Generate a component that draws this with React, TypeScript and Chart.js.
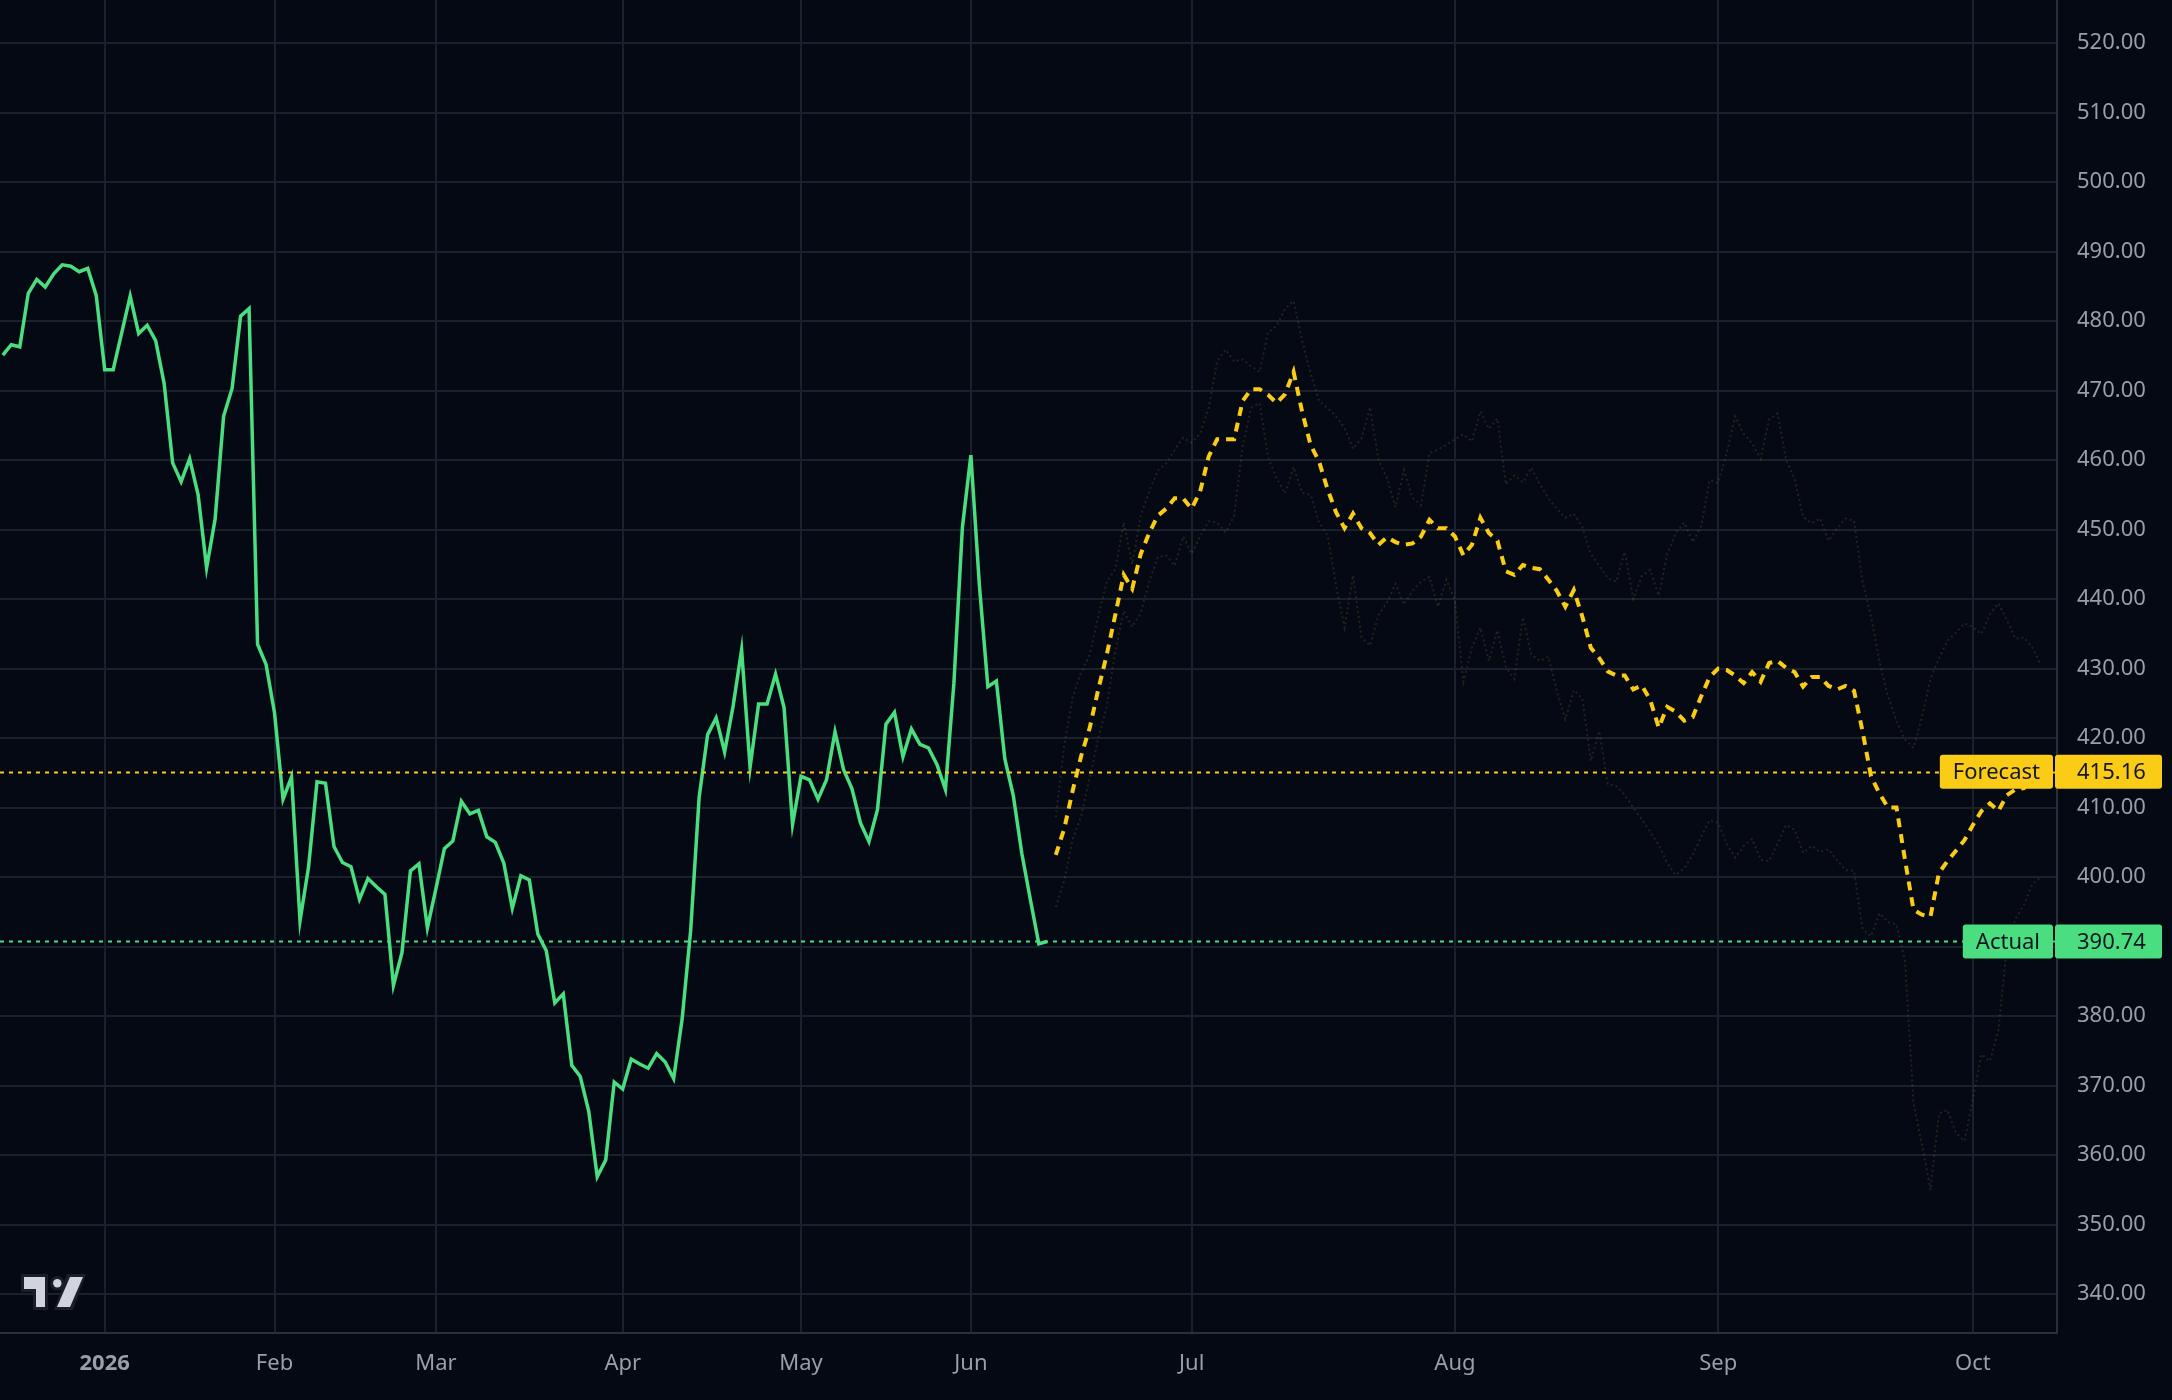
import React, { useEffect, useRef } from "react";
import { Chart, registerables } from "chart.js";

Chart.register(...registerables);

// ---------- DATA ----------
const ACTUAL: number[] = [
  475.1, 476.6, 476.3, 484.0, 486.0, 484.9, 486.8, 488.1, 487.9, 487.1,
  487.6, 483.7, 473.0, 473.0, 478.3, 483.6, 478.2, 479.4, 477.2, 471.0,
  459.6, 456.9, 460.2, 455.0, 444.5, 451.5, 466.3, 470.3, 480.7, 481.8,
  433.5, 430.6, 423.6, 411.2, 414.4, 393.7, 401.4, 413.7, 413.5, 404.4,
  402.1, 401.5, 396.8, 399.8, 398.6, 397.5, 384.4, 389.1, 400.9, 401.9,
  392.7, 398.3, 404.1, 405.2, 410.9, 409.1, 409.6, 405.8, 405.0, 402.0,
  395.5, 400.2, 399.6, 391.8, 389.4, 381.9, 383.2, 372.9, 371.3, 366.3,
  356.9, 359.3, 370.5, 369.5, 373.8, 373.1, 372.5, 374.6, 373.4, 371.0,
  379.6, 392.3, 411.5, 420.5, 422.9, 418.0, 424.6, 432.7, 415.8, 424.9,
  424.9, 429.2, 424.4, 407.6, 414.5, 414.0, 411.2, 414.0, 420.9, 415.5,
  412.7, 407.8, 405.1, 409.7, 422.0, 423.7, 417.3, 421.3, 419.1, 418.6,
  416.2, 412.6, 427.9, 450.3, 460.7, 442.0, 427.4, 428.2, 417.0, 411.7,
  403.4, 396.8, 390.4, 390.74,
];

const FORECAST_START = 124;

const FORECAST: number[] = [
  403.2, 407.0, 412.5, 417.5, 421.5, 427.0, 432.0, 437.7, 443.5, 441.5,
  446.5, 449.5, 452.0, 453.0, 454.5, 454.5, 453.0, 455.5, 460.5, 463.0,
  463.0, 463.0, 468.5, 470.2, 470.2, 469.4, 468.2, 469.5, 472.7, 467.0,
  462.2, 459.8, 455.8, 452.5, 450.2, 452.3, 450.2, 449.5, 447.8, 448.9,
  448.2, 447.8, 448.0, 449.0, 451.4, 450.2, 450.2, 449.0, 446.3, 447.8,
  451.7, 449.5, 448.4, 444.0, 443.5, 444.9, 444.5, 444.3, 442.8, 441.2,
  438.9, 441.3, 437.5, 433.0, 431.5, 429.6, 429.0, 429.0, 427.0, 427.6,
  425.5, 421.5, 424.5, 423.8, 422.5, 423.0, 426.0, 428.8, 430.0, 429.8,
  429.0, 427.9, 429.5, 428.1, 430.8, 431.1, 430.1, 429.5, 427.4, 428.8,
  428.8, 427.5, 427.0, 427.5, 426.8, 421.0, 414.5, 412.0, 410.0, 410.0,
  402.5, 395.3, 394.6, 394.3, 400.6, 402.3, 403.8, 405.3, 407.5, 409.5,
  410.6, 409.5, 411.8, 412.6, 412.8, 415.0, 417.0,
];

const UPPER: number[] = [
  408.6, 419.0, 426.0, 429.5, 432.0, 437.5, 442.5, 444.3, 451.0, 445.0,
  452.0, 455.5, 458.5, 459.5, 461.5, 463.2, 462.5, 463.8, 467.5, 474.2,
  475.9, 474.2, 474.5, 473.5, 472.7, 478.4, 479.3, 481.8, 482.9, 477.2,
  472.5, 468.5, 467.5, 466.3, 464.6, 461.6, 463.1, 467.6, 460.0, 457.4,
  453.2, 458.6, 454.6, 453.5, 461.0, 461.5, 462.2, 463.0, 463.7, 462.7,
  467.0, 464.5, 466.0, 456.5, 457.8, 456.8, 458.9, 456.5, 454.5, 453.0,
  451.7, 452.3, 450.4, 446.5, 444.8, 443.0, 442.5, 446.8, 440.0, 443.3,
  444.2, 440.5, 446.5, 449.5, 451.0, 448.2, 450.5, 457.1, 456.7, 461.0,
  466.3, 463.8, 462.4, 460.2, 465.9, 466.7, 460.0, 457.3, 451.8, 450.9,
  451.6, 448.4, 450.2, 451.6, 451.3, 442.5, 437.5, 431.0, 426.0, 422.5,
  419.8, 418.6, 423.0, 428.5, 431.5, 434.0, 435.2, 436.5, 436.0, 435.0,
  437.8, 439.4, 437.0, 434.3, 434.5, 433.0, 430.5,
];

const LOWER: number[] = [
  395.7, 399.5, 405.5, 408.8, 414.3, 420.0, 424.5, 432.5, 438.3, 436.0,
  438.0, 442.5, 446.0, 446.3, 444.8, 449.0, 446.5, 449.0, 451.2, 451.0,
  449.6, 452.0, 462.0, 467.5, 468.2, 460.4, 457.4, 455.2, 459.0, 455.3,
  455.0, 451.0, 449.2, 442.0, 435.9, 443.4, 434.5, 433.3, 437.7, 439.5,
  442.2, 439.2, 441.2, 442.5, 443.2, 438.9, 442.8, 439.8, 428.1, 433.0,
  435.9, 431.1, 435.5, 430.2, 428.5, 437.4, 432.0, 431.1, 431.7, 426.8,
  422.7, 426.9, 425.7, 416.7, 421.0, 413.4, 413.1, 411.8, 410.0, 408.3,
  406.5, 404.6, 402.0, 400.3, 401.2, 403.2, 405.8, 408.2, 407.8, 404.8,
  402.8, 404.5, 405.5, 402.5, 402.3, 404.8, 407.5, 406.8, 403.5, 404.5,
  403.6, 404.0, 402.4, 401.0, 400.9, 392.5, 391.5, 394.8, 393.5, 393.2,
  388.0, 367.5, 361.5, 355.0, 366.0, 366.5, 363.2, 362.0, 368.1, 374.5,
  373.5, 378.0, 390.0, 394.0, 396.0, 399.0, 400.0,
];

const MONTH_TICKS: number[] = [12, 32, 51, 73, 94, 114, 140, 171, 202, 232];
const MONTH_LABELS: string[] = ["2026", "Feb", "Mar", "Apr", "May", "Jun", "Jul", "Aug", "Sep", "Oct"];
const Y_TICKS: number[] = [340, 350, 360, 370, 380, 390, 400, 410, 420, 430, 440, 450, 460, 470, 480, 490, 500, 510, 520];

const FORECAST_LAST = 415.16;
const ACTUAL_LAST = 390.74;

// ---------- STYLE ----------
const BG = "#050913";
const GRID = "#1b202d";
const AXIS_LINE = "#2a2f3b";
const TICK_COLOR = "#9a9ea8";
const GREEN = "#4ade80";
const YELLOW = "#facc15";
const BAND = "rgba(160,140,70,0.2)";
const FONT = "Noto Sans";

const overlayPlugin = {
  id: "overlay",
  beforeDraw(chart: any) {
    const ctx = chart.ctx;
    ctx.save();
    ctx.fillStyle = BG;
    ctx.fillRect(0, 0, chart.width, chart.height);
    ctx.restore();
  },
  afterDatasetsDraw(chart: any) {
    const { ctx, chartArea, scales } = chart;
    const lines = [
      { v: FORECAST_LAST, c: YELLOW },
      { v: ACTUAL_LAST, c: GREEN },
    ];
    ctx.save();
    ctx.lineWidth = 2;
    ctx.setLineDash([4, 5]);
    for (const l of lines) {
      const y = Math.round(scales.y.getPixelForValue(l.v)) + 0.5;
      ctx.strokeStyle = l.c;
      ctx.beginPath();
      ctx.moveTo(chartArea.left, y);
      ctx.lineTo(chartArea.right, y);
      ctx.stroke();
    }
    ctx.restore();
  },
  afterDraw(chart: any) {
    const { ctx, chartArea, scales } = chart;
    const labels = [
      { name: "Forecast", v: FORECAST_LAST, c: YELLOW },
      { name: "Actual", v: ACTUAL_LAST, c: GREEN },
    ];
    ctx.save();
    ctx.font = `22px "${FONT}"`;
    ctx.textBaseline = "middle";
    const h = 34;
    for (const l of labels) {
      const y = scales.y.getPixelForValue(l.v);
      const tw = ctx.measureText(l.name).width;
      const bw = tw + 26;
      const bx = chartArea.right - 4 - bw;
      ctx.fillStyle = l.c;
      ctx.beginPath();
      if (ctx.roundRect) ctx.roundRect(bx, y - h / 2, bw, h, 3);
      else ctx.rect(bx, y - h / 2, bw, h);
      ctx.fill();
      const vx = chartArea.right - 2;
      const vw = chart.width - 10 - vx;
      ctx.beginPath();
      if (ctx.roundRect) ctx.roundRect(vx, y - h / 2, vw, h, 3);
      else ctx.rect(vx, y - h / 2, vw, h);
      ctx.fill();
      ctx.fillStyle = "#131722";
      ctx.textAlign = "left";
      ctx.fillText(l.name, bx + 13, y + 1);
      ctx.fillText(l.v.toFixed(2), chartArea.right + 20, y + 1);
    }
    // logo
    const o = "#1a1e29";
    const f = "#d1d4dc";
    const drawLogo = (fill: string, grow: number) => {
      ctx.fillStyle = fill;
      ctx.fillRect(24 - grow, 1277 - grow, 21 + grow * 2, 12 + grow * 2);
      ctx.fillRect(36 - grow, 1277 - grow, 9 + grow * 2, 30 + grow * 2);
      ctx.beginPath();
      ctx.arc(57.3, 1283.3, 4.2 + grow, 0, Math.PI * 2);
      ctx.fill();
      ctx.beginPath();
      ctx.moveTo(70 - grow, 1277 - grow);
      ctx.lineTo(83 + grow, 1277 - grow);
      ctx.lineTo(70 + grow, 1307 + grow);
      ctx.lineTo(57 - grow, 1307 + grow);
      ctx.closePath();
      ctx.fill();
    };
    drawLogo(o, 3);
    drawLogo(f, 0);
    ctx.restore();
  },
};

export default function App() {
  const ref = useRef<HTMLCanvasElement>(null);

  useEffect(() => {
    document.body.style.margin = "0";
    document.body.style.background = BG;
    Chart.defaults.font.family = FONT;
    const canvas = ref.current;
    if (!canvas) return;

    const chart = new Chart(canvas, {
      type: "line",
      data: {
        datasets: [
          {
            label: "Upper",
            data: UPPER.map((v, i) => ({ x: FORECAST_START + i, y: v })),
            borderColor: BAND,
            borderWidth: 2,
            borderDash: [2, 3],
            pointRadius: 0,
            tension: 0,
            order: 4,
          },
          {
            label: "Lower",
            data: LOWER.map((v, i) => ({ x: FORECAST_START + i, y: v })),
            borderColor: BAND,
            borderWidth: 2,
            borderDash: [2, 3],
            pointRadius: 0,
            tension: 0,
            order: 3,
          },
          {
            label: "Forecast",
            data: FORECAST.map((v, i) => ({ x: FORECAST_START + i, y: v })),
            borderColor: YELLOW,
            borderWidth: 4,
            borderDash: [9, 7],
            pointRadius: 0,
            tension: 0,
            order: 2,
          },
          {
            label: "Actual",
            data: ACTUAL.map((v, i) => ({ x: i, y: v })),
            borderColor: GREEN,
            borderWidth: 3.5,
            pointRadius: 0,
            tension: 0,
            order: 1,
          },
        ],
      },
      options: {
        animation: false,
        responsive: false,
        maintainAspectRatio: false,
        devicePixelRatio: 1,
        layout: { padding: 0 },
        plugins: {
          legend: { display: false },
          tooltip: { enabled: false },
        },
        scales: {
          x: {
            type: "linear",
            min: -0.33,
            max: 241.9,
            bounds: "data",
            afterBuildTicks: (s: any) => {
              s.ticks = MONTH_TICKS.map((v) => ({ value: v }));
            },
            afterFit: (s: any) => {
              s.height = 67;
              s.paddingLeft = 0;
              s.paddingRight = 0;
            },
            grid: { color: GRID, lineWidth: 2, drawTicks: false },
            border: { color: AXIS_LINE, width: 2 },
            ticks: {
              autoSkip: false,
              maxRotation: 0,
              padding: 18,
              color: TICK_COLOR,
              font: (c: any) => ({
                family: FONT,
                size: 22,
                weight: c.index === 0 ? "bold" : "normal",
              }),
              callback: (_v: any, i: number) => MONTH_LABELS[i],
            },
          },
          y: {
            type: "linear",
            position: "right",
            min: 334.4,
            max: 526.2,
            bounds: "data",
            afterBuildTicks: (s: any) => {
              s.ticks = Y_TICKS.map((v) => ({ value: v }));
            },
            afterFit: (s: any) => {
              s.width = 115;
              s.paddingTop = 0;
              s.paddingBottom = 0;
            },
            grid: { color: GRID, lineWidth: 2, drawTicks: false },
            border: { color: AXIS_LINE, width: 2 },
            ticks: {
              padding: 20,
              color: TICK_COLOR,
              font: { family: FONT, size: 22 },
              callback: (v: any) => Number(v).toFixed(2),
            },
          },
        },
      },
      plugins: [overlayPlugin],
    } as any);

    return () => chart.destroy();
  }, []);

  return (
    <div style={{ width: 2172, height: 1400, background: BG, position: "relative" }}>
      <canvas ref={ref} width={2172} height={1400} style={{ width: 2172, height: 1400, display: "block" }} />
    </div>
  );
}
